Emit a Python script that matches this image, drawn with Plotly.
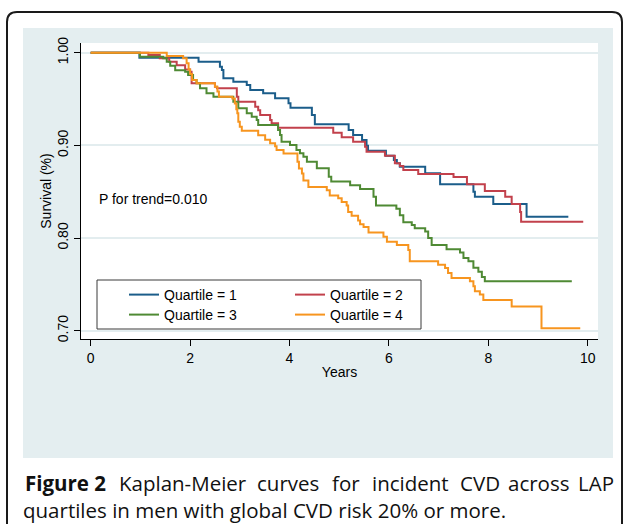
import plotly.graph_objects as go

# ---------------- data ----------------
series_names = ["Quartile = 1", "Quartile = 2", "Quartile = 3", "Quartile = 4"]

q1_time = [0, 0.98, 2.17, 2.60, 2.64, 2.67, 2.87, 3.14, 3.21, 3.47, 3.71, 3.98, 4.02,
           4.45, 4.51, 5.19, 5.28, 5.46, 5.55, 5.58, 5.94, 6.10, 6.16, 6.22, 6.73,
           7.03, 7.70, 7.73, 8.10, 8.77, 9.61]
q1_surv = [1.0, 0.9946, 0.9903, 0.9849, 0.9813, 0.9724, 0.9687, 0.9651, 0.9597, 0.9562,
           0.9508, 0.9454, 0.9406, 0.9328, 0.9227, 0.9166, 0.9112, 0.9058, 0.8997, 0.8942,
           0.8889, 0.8842, 0.8807, 0.877, 0.870, 0.858, 0.850, 0.8446, 0.8367, 0.823, 0.823]

q2_time = [0, 1.16, 1.39, 1.58, 1.73, 1.90, 2.00, 2.03, 2.50, 2.54, 2.94, 2.97, 3.31,
           3.37, 3.41, 3.61, 3.64, 3.77, 4.88, 5.05, 5.28, 5.52, 5.55, 5.92, 6.12,
           6.22, 6.29, 6.59, 7.30, 7.57, 7.93, 8.34, 8.47, 8.64, 8.66, 9.91]
q2_surv = [1.0, 0.9976, 0.994, 0.9903, 0.9864, 0.982, 0.9795, 0.967, 0.9633, 0.9616,
           0.9525, 0.9471, 0.9417, 0.938, 0.9328, 0.9274, 0.9238, 0.919, 0.9137, 0.9087,
           0.904, 0.8986, 0.8932, 0.8889, 0.8807, 0.8777, 0.8734, 0.869, 0.866, 0.858,
           0.8508, 0.8446, 0.8367, 0.828, 0.8176, 0.8176]

q3_time = [0, 0.99, 1.46, 1.53, 1.60, 1.70, 1.90, 1.96, 2.06, 2.13, 2.20, 2.33, 2.47,
           2.87, 2.97, 3.14, 3.24, 3.34, 3.37, 3.77, 3.81, 3.84, 4.01, 4.14, 4.21,
           4.28, 4.35, 4.55, 4.79, 4.84, 5.22, 5.42, 5.69, 5.74, 6.15, 6.22, 6.29,
           6.46, 6.52, 6.73, 6.79, 6.86, 7.16, 7.43, 7.50, 7.60, 7.70, 7.80, 7.87,
           7.93, 9.68]
q3_surv = [1.0, 0.9957, 0.994, 0.9903, 0.986, 0.981, 0.9795, 0.976, 0.9705, 0.967,
           0.9616, 0.9562, 0.9525, 0.9471, 0.940, 0.9346, 0.931, 0.9274, 0.922, 0.9166,
           0.9112, 0.904, 0.9004, 0.895, 0.8914, 0.8878, 0.8824, 0.8753, 0.8662, 0.861,
           0.857, 0.853, 0.8445, 0.835, 0.8315, 0.8245, 0.817, 0.814, 0.8105, 0.807,
           0.800, 0.7925, 0.788, 0.7845, 0.7785, 0.775, 0.768, 0.7636, 0.758, 0.7535,
           0.7535]

q4_time = [0, 1.53, 1.86, 1.93, 1.97, 2.00, 2.04, 2.13, 2.50, 2.55, 2.58, 2.85, 2.90,
           2.93, 2.95, 2.97, 3.00, 3.04, 3.37, 3.51, 3.61, 3.71, 3.74, 3.88, 4.16,
           4.19, 4.25, 4.28, 4.38, 4.75, 4.81, 4.98, 5.05, 5.15, 5.18, 5.25, 5.38,
           5.42, 5.49, 5.59, 5.89, 5.96, 6.16, 6.39, 6.42, 6.99, 7.13, 7.19, 7.26,
           7.63, 7.70, 7.73, 7.83, 7.90, 8.47, 9.07, 9.85]
q4_surv = [1.0, 0.9964, 0.994, 0.9886, 0.982, 0.977, 0.9705, 0.967, 0.9633, 0.958,
           0.9525, 0.9507, 0.9453, 0.939, 0.9346, 0.9256, 0.920, 0.9157, 0.911, 0.906,
           0.9022, 0.899, 0.8949, 0.8913, 0.8824, 0.875, 0.8697, 0.862, 0.855, 0.8515,
           0.846, 0.843, 0.839, 0.835, 0.828, 0.824, 0.819, 0.815, 0.812, 0.806,
           0.8015, 0.796, 0.7925, 0.787, 0.775, 0.7713, 0.7677, 0.7623, 0.757, 0.7533,
           0.748, 0.7425, 0.739, 0.7332, 0.726, 0.7026, 0.7026]

x_tickvals = [0, 2, 4, 6, 8, 10]
y_tickvals = [0.70, 0.80, 0.90, 1.00]
y_ticktext = ["0.70", "0.80", "0.90", "1.00"]

x_title = "Years"
y_title = "Survival (%)"
p_text = "P for trend=0.010"
caption_line1_words = ["<b>Figure 2</b>", "Kaplan-Meier", "curves", "for", "incident",
                       "CVD", "across", "LAP"]
caption_line2 = "quartiles in men with global CVD risk 20% or more."

# ---------------- styling ----------------
colors = ["#1b5d8a", "#c2414c", "#4f8a34", "#f7951f"]
W, H = 624, 524
ML, MR, MT, MB = 81, 26, 43, 185
PW, PH = W - ML - MR, H - MT - MB


def px(X):
    return (X - ML) / PW


def py(Y):
    return (H - MB - Y) / PH


AX_FONT = dict(family="Liberation Sans, Arial, sans-serif", size=14, color="#000000")
CAP_FONT = "Open Sans, Noto Sans, sans-serif"
CAP_SIZE = 20.5

fig = go.Figure()
times = [q1_time, q2_time, q3_time, q4_time]
survs = [q1_surv, q2_surv, q3_surv, q4_surv]
legends = ["legend", "legend", "legend2", "legend2"]
for name, t, s, c, lg in zip(series_names, times, survs, colors, legends):
    fig.add_trace(go.Scatter(x=t, y=s, mode="lines", name=name, legend=lg,
                             line=dict(color=c, width=2, shape="hv"),
                             hoverinfo="skip"))

# background shapes: outer rounded frame, graph region panel, plot region
r = 10
bx0, by0, bx1, by1 = 7, 12, 622, 560
frame_path = (f"M {px(bx0)} {py(by1)} L {px(bx0)} {py(by0 + r)} "
              f"Q {px(bx0)} {py(by0)} {px(bx0 + r)} {py(by0)} "
              f"L {px(bx1 - r)} {py(by0)} Q {px(bx1)} {py(by0)} {px(bx1)} {py(by0 + r)} "
              f"L {px(bx1)} {py(by1)}")
shapes = [
    dict(type="rect", xref="paper", yref="paper", x0=px(23), x1=px(613), y0=py(458), y1=py(28),
         fillcolor="#e4eef0", line=dict(width=0), layer="below"),
    dict(type="rect", xref="paper", yref="paper", x0=0, x1=1, y0=0, y1=1,
         fillcolor="#ffffff", line=dict(width=0), layer="below"),
    dict(type="path", xref="paper", yref="paper", path=frame_path,
         line=dict(color="#1a1a1a", width=2), layer="below"),
    dict(type="rect", xref="paper", yref="paper", x0=px(97), x1=px(421), y0=py(329), y1=py(280),
         fillcolor="#ffffff", line=dict(color="#3a3a3a", width=1), layer="above"),
]

annotations = [
    dict(text=p_text, xref="paper", yref="paper", x=px(97), y=py(199),
         xanchor="left", yanchor="middle", showarrow=False, font=AX_FONT),
]
word_centers = [65.4, 182.5, 288, 345.5, 410.5, 479.5, 538, 595.5]
for wtxt, wc in zip(caption_line1_words, word_centers):
    annotations.append(dict(text=wtxt, xref="paper", yref="paper", x=px(wc), y=py(483),
                            xanchor="center", yanchor="middle", showarrow=False,
                            font=dict(family=CAP_FONT, size=CAP_SIZE, color="#111111")))
annotations.append(dict(text=caption_line2, xref="paper", yref="paper", x=px(21), y=py(510),
                        xanchor="left", yanchor="middle", showarrow=False,
                        font=dict(family=CAP_FONT, size=CAP_SIZE, color="#111111")))

legend_common = dict(orientation="h", xanchor="left", yanchor="middle",
                     bgcolor="rgba(0,0,0,0)", borderwidth=0, font=AX_FONT,
                     entrywidth=121, entrywidthmode="pixels", itemwidth=30,
                     traceorder="normal")

fig.update_layout(
    width=W, height=H,
    margin=dict(l=ML, r=MR, t=MT, b=MB, pad=0),
    paper_bgcolor="#ffffff", plot_bgcolor="rgba(0,0,0,0)",
    font=AX_FONT,
    showlegend=True,
    legend=dict(x=px(124), y=py(295), **legend_common),
    legend2=dict(x=px(124), y=py(315), **legend_common),
    shapes=shapes,
    annotations=annotations,
    xaxis=dict(range=[-0.195, 10.207], tickvals=x_tickvals, ticks="outside", ticklen=6,
               tickwidth=1, tickcolor="#000000", showline=True, linecolor="#000000",
               linewidth=1, showgrid=False, zeroline=False, tickfont=AX_FONT,
               title=dict(text=x_title, font=AX_FONT, standoff=2), fixedrange=True),
    yaxis=dict(range=[0.69105, 1.01047], tickvals=y_tickvals, ticktext=y_ticktext,
               tickangle=-90, ticks="outside", ticklen=6, tickwidth=1, tickcolor="#000000",
               showline=True, linecolor="#000000", linewidth=1, showgrid=True,
               gridcolor="#e3edef", gridwidth=1.5, zeroline=False, tickfont=AX_FONT,
               ticklabelstandoff=0,
               title=dict(text=y_title, font=AX_FONT, standoff=0), fixedrange=True),
)

fig.write_html("out.html",
               config={"displayModeBar": False, "staticPlot": False},
               post_script="document.body.style.margin='0';document.body.style.padding='0';")
